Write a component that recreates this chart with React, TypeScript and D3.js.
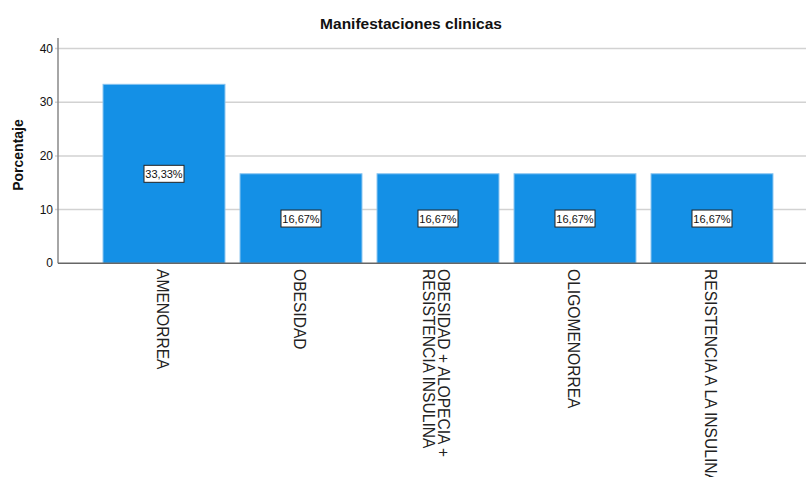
import React from "react";
import * as d3 from "d3";

const categories: string[][] = [
  ["AMENORREA"],
  ["OBESIDAD"],
  ["OBESIDAD + ALOPECIA +", "RESISTENCIA INSULINA"],
  ["OLIGOMENORREA"],
  ["RESISTENCIA A LA INSULINA"],
];
const values: number[] = [33.33, 16.67, 16.67, 16.67, 16.67];
const yTicks: number[] = [0, 10, 20, 30, 40];
const title = "Manifestaciones clinicas";
const yTitle = "Porcentaje";

const W = 806;
const H = 477;
const FONT = "Arial, 'Liberation Sans', sans-serif";

export default function App() {
  const keys = categories.map((c) => c.join(" "));
  const x = d3.scaleBand<string>().domain(keys).range([95.5, 780.5]).paddingInner(0.11).paddingOuter(0.055);
  const y = d3.scaleLinear().domain([0, 40]).range([263.3, 48.5]);
  const axisX = 58;

  return (
    <svg width={W} height={H} style={{ position: "absolute", left: 0, top: 0, background: "#fff" }} fontFamily={FONT}>
      <text x={411} y={29} textAnchor="middle" fontSize={15.5} fontWeight="bold" fill="#111">{title}</text>
      {yTicks.filter((t) => t > 0).map((t) => (
        <line key={"g" + t} x1={axisX - 3} x2={W} y1={y(t)} y2={y(t)} stroke="#d2d2d2" strokeWidth={1.5} />
      ))}
      {yTicks.map((t) => (
        <text key={"t" + t} x={53} y={y(t) + 4} textAnchor="end" fontSize={12} fill="#111">{t}</text>
      ))}
      <text transform={`translate(23,${155}) rotate(-90)`} textAnchor="middle" fontSize={14} fontWeight="bold" fill="#111">{yTitle}</text>
      {values.map((v, i) => {
        const k = keys[i];
        const bx = x(k)!;
        return (
          <rect key={"b" + i} x={bx} y={y(v)} width={x.bandwidth()} height={y(0) - y(v)} fill="#1490e6" stroke="#86c4f0" strokeWidth={1} />
        );
      })}
      <line x1={axisX} x2={axisX} y1={38} y2={y(0)} stroke="#888" strokeWidth={1.5} />
      <line x1={axisX} x2={W} y1={y(0)} y2={y(0)} stroke="#666" strokeWidth={1.5} />
      {values.map((v, i) => {
        const k = keys[i];
        const cx = x(k)! + x.bandwidth() / 2;
        const cy = (y(v) + y(0)) / 2;
        const label = v.toFixed(2).replace(".", ",") + "%";
        return (
          <g key={"l" + i}>
            <rect x={cx - 20} y={cy - 8.5} width={40} height={17} fill="#fff" stroke="#222" strokeWidth={1} />
            <text x={cx} y={cy + 4} textAnchor="middle" fontSize={11} fill="#111">{label}</text>
          </g>
        );
      })}
      {categories.map((lines, i) => {
        const cx = x(keys[i])! + x.bandwidth() / 2;
        const n = lines.length;
        return (
          <text key={"c" + i} transform={`translate(${cx},${269}) rotate(90)`} fontSize={15.6} fill="#222">
            {lines.map((ln, j) => (
              <tspan key={j} x={0} y={(j - (n - 1) / 2) * 15 + 7.5}>{ln}</tspan>
            ))}
          </text>
        );
      })}
    </svg>
  );
}
